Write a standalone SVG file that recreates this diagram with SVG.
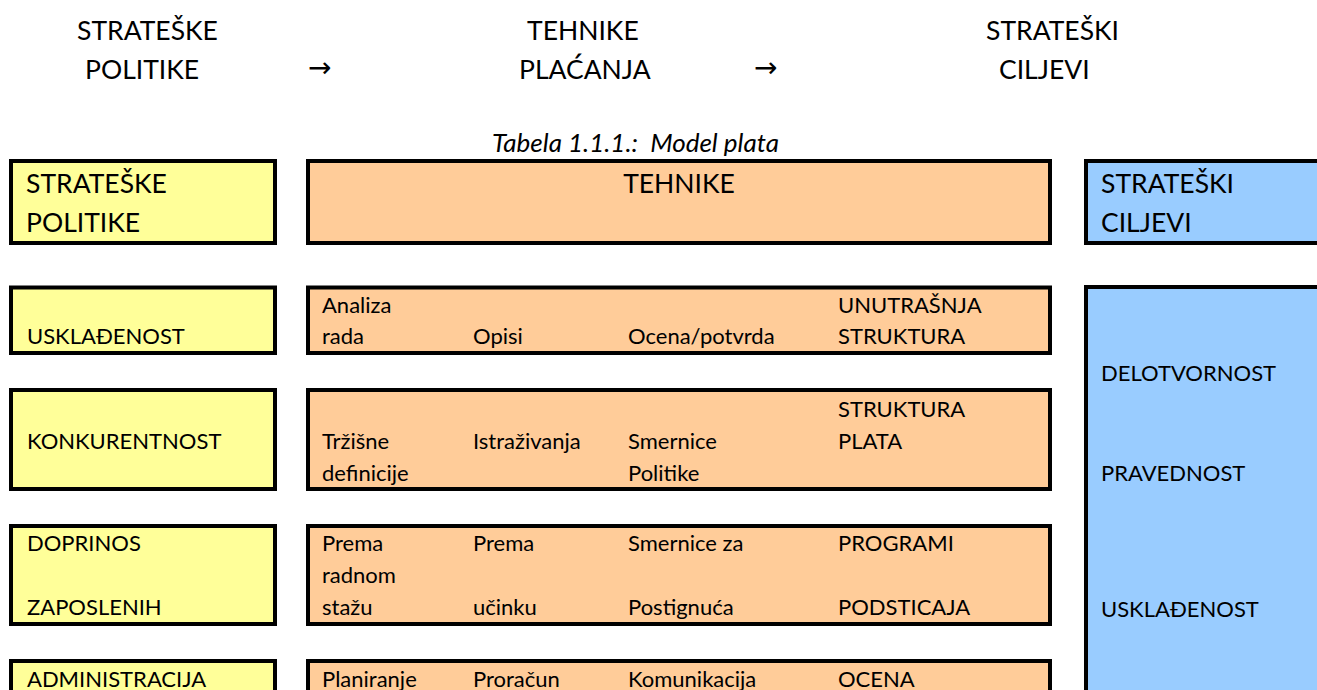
<svg xmlns="http://www.w3.org/2000/svg" width="1317" height="690" viewBox="0 0 1317 690">
<style>
text{font-family:Lato,"Liberation Sans","DejaVu Sans",sans-serif;fill:#000}
.t{font-size:26.5px}
.h{font-size:26.5px}
.b{font-size:22px}
.cap{font-size:26px;font-style:italic}
.arr{font-family:"DejaVu Sans",sans-serif;font-size:28px}
.y{fill:#FFFF99;stroke:#000;stroke-width:4}
.o{fill:#FFCC99;stroke:#000;stroke-width:4}
.bl{fill:#99CCFF;stroke:#000;stroke-width:4}
</style>
<g id="title">
<text class="t" x="77" y="40">STRATEŠKE</text>
<text class="t" x="85" y="79">POLITIKE</text>
<text class="arr" x="308" y="77">→</text>
<text class="t" x="527" y="40">TEHNIKE</text>
<text class="t" x="519" y="79">PLAĆANJA</text>
<text class="arr" x="754" y="77">→</text>
<text class="t" x="986" y="40">STRATEŠKI</text>
<text class="t" x="999" y="79">CILJEVI</text>
<text class="cap" x="492" y="152">Tabela 1.1.1.:&#160; Model plata</text>
</g>
<g id="hdr-politike">
<rect class="y" x="11" y="161" width="264" height="82"/>
<text class="h" x="26" y="193">STRATEŠKE</text>
<text class="h" x="26" y="232">POLITIKE</text>
</g>
<g id="hdr-tehnike">
<rect class="o" x="308" y="161" width="742" height="82"/>
<text class="h" x="679" y="193" text-anchor="middle">TEHNIKE</text>
</g>
<g id="hdr-ciljevi">
<rect class="bl" x="1086" y="161" width="260" height="82"/>
<text class="h" x="1101" y="193">STRATEŠKI</text>
<text class="h" x="1101" y="232">CILJEVI</text>
</g>
<g id="pol-uskladjenost">
<rect class="y" x="11" y="287.5" width="264" height="65.5"/>
<text class="b" x="27" y="344">USKLAĐENOST</text>
</g>
<g id="teh-row1">
<rect class="o" x="308" y="287.5" width="742" height="65.5"/>
<text class="b" x="322" y="313">Analiza</text>
<text class="b" x="322" y="344">rada</text>
<text class="b" x="473" y="344">Opisi</text>
<text class="b" x="628" y="344">Ocena/potvrda</text>
<text class="b" x="838" y="313">UNUTRAŠNJA</text>
<text class="b" x="838" y="344">STRUKTURA</text>
</g>
<g id="pol-konkurentnost">
<rect class="y" x="11" y="390" width="264" height="99"/>
<text class="b" x="27" y="449">KONKURENTNOST</text>
</g>
<g id="teh-row2">
<rect class="o" x="308" y="390" width="742" height="99"/>
<text class="b" x="838" y="417">STRUKTURA</text>
<text class="b" x="322" y="449">Tržišne</text>
<text class="b" x="473" y="449">Istraživanja</text>
<text class="b" x="628" y="449">Smernice</text>
<text class="b" x="838" y="449">PLATA</text>
<text class="b" x="322" y="481">definicije</text>
<text class="b" x="628" y="481">Politike</text>
</g>
<g id="pol-doprinos">
<rect class="y" x="11" y="526" width="264" height="98"/>
<text class="b" x="27" y="551">DOPRINOS</text>
<text class="b" x="27" y="615">ZAPOSLENIH</text>
</g>
<g id="teh-row3">
<rect class="o" x="308" y="526" width="742" height="98"/>
<text class="b" x="322" y="551">Prema</text>
<text class="b" x="322" y="583">radnom</text>
<text class="b" x="322" y="615">stažu</text>
<text class="b" x="473" y="551">Prema</text>
<text class="b" x="473" y="615">učinku</text>
<text class="b" x="628" y="551">Smernice za</text>
<text class="b" x="628" y="615">Postignuća</text>
<text class="b" x="838" y="551">PROGRAMI</text>
<text class="b" x="838" y="615">PODSTICAJA</text>
</g>
<g id="pol-administracija">
<rect class="y" x="11" y="661" width="264" height="60"/>
<text class="b" x="27" y="687">ADMINISTRACIJA</text>
</g>
<g id="teh-row4">
<rect class="o" x="308" y="661" width="742" height="60"/>
<text class="b" x="322" y="687">Planiranje</text>
<text class="b" x="473" y="687">Proračun</text>
<text class="b" x="628" y="687">Komunikacija</text>
<text class="b" x="838" y="687">OCENA</text>
</g>
<g id="ciljevi">
<rect class="bl" x="1086" y="287" width="260" height="440"/>
<text class="b" x="1101" y="381">DELOTVORNOST</text>
<text class="b" x="1101" y="481">PRAVEDNOST</text>
<text class="b" x="1101" y="617">USKLAĐENOST</text>
</g>
<g id="connectors"></g>
</svg>
